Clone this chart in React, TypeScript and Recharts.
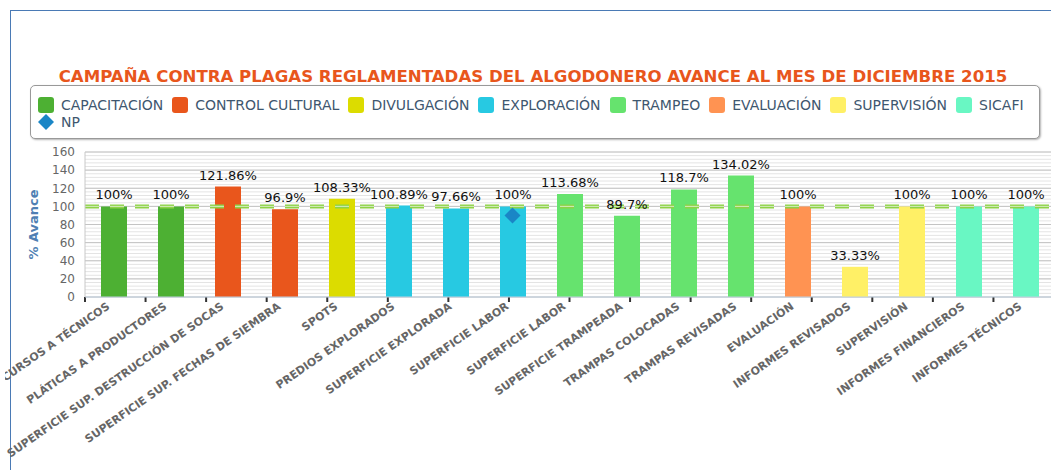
import React from 'react';
import {
  Bar,
  CartesianGrid,
  Cell,
  ComposedChart,
  LabelList,
  Line,
  ReferenceLine,
  XAxis,
  YAxis,
} from 'recharts';

const categories = [
  'CURSOS A TÉCNICOS',
  'PLÁTICAS A PRODUCTORES',
  'SUPERFICIE SUP. DESTRUCCIÓN DE SOCAS',
  'SUPERFICIE SUP. FECHAS DE SIEMBRA',
  'SPOTS',
  'PREDIOS EXPLORADOS',
  'SUPERFICIE EXPLORADA',
  'SUPERFICIE LABOR',
  'SUPERFICIE LABOR',
  'SUPERFICIE TRAMPEADA',
  'TRAMPAS COLOCADAS',
  'TRAMPAS REVISADAS',
  'EVALUACIÓN',
  'INFORMES REVISADOS',
  'SUPERVISIÓN',
  'INFORMES FINANCIEROS',
  'INFORMES TÉCNICOS',
];

const avance = [100, 100, 121.86, 96.9, 108.33, 100.89, 97.66, 100, 113.68, 89.7, 118.7, 134.02, 100, 33.33, 100, 100, 100];

// index into seriesNames for every category
const categorySeries = [0, 0, 1, 1, 2, 3, 3, 3, 4, 4, 4, 4, 5, 6, 6, 7, 7];

const npValues: (number | null)[] = [null, null, null, null, null, null, null, 90, null, null, null, null, null, null, null, null, null];

const seriesNames = ['CAPACITACIÓN', 'CONTROL CULTURAL', 'DIVULGACIÓN', 'EXPLORACIÓN', 'TRAMPEO', 'EVALUACIÓN', 'SUPERVISIÓN', 'SICAFI'];
const seriesColors = ['#4DB033', '#E9561C', '#DCDC00', '#27C9E2', '#66E36E', '#FF9352', '#FFF066', '#69F7C3'];
const npName = 'NP';
const npColor = '#1A86C6';

const yTicks = [0, 20, 40, 60, 80, 100, 120, 140, 160];
const minorTicks = [
  0, 4, 8, 12, 16, 20, 24, 28, 32, 36, 40, 44, 48, 52, 56, 60, 64, 68, 72, 76, 80,
  84, 88, 92, 96, 100, 104, 108, 112, 116, 120, 124, 128, 132, 136, 140, 144, 148, 152, 156, 160,
];
const edgeTicks = [0, 1, 2, 3, 4, 5, 6, 7, 8, 9, 10, 11, 12, 13, 14, 15, 16, 17];
const meta = 100;

const title = 'CAMPAÑA CONTRA PLAGAS REGLAMENTADAS DEL ALGODONERO AVANCE AL MES DE DICIEMBRE 2015';

const data = categories.map((name, i) => ({
  name,
  avance: avance[i],
  np: npValues[i],
  color: seriesColors[categorySeries[i]],
}));

const FONT = '"DejaVu Sans", Verdana, sans-serif';

function CategoryTick(props: any) {
  const { x, y, payload } = props;
  return (
    <g transform={`translate(${x - 3},${y + 11}) rotate(-35)`}>
      <text textAnchor="end" fontFamily={FONT} fontWeight="bold" fontSize={11} fill="#666">
        {payload.value}
      </text>
    </g>
  );
}

function EmptyTick() {
  return <g />;
}

function NpDot(props: any) {
  const { cx, cy, value } = props;
  if (value == null || cx == null || cy == null || isNaN(cy)) return <g key={props.index} />;
  return (
    <path
      key={props.index}
      d={`M${cx},${cy - 8}L${cx + 8},${cy}L${cx},${cy + 8}L${cx - 8},${cy}Z`}
      fill={npColor}
    />
  );
}

// minor grid lines placed through the y scale
function minorGrid({ yAxis }: any) {
  const s = yAxis && yAxis.scale;
  if (!s) return [];
  const f = typeof s === 'function' ? s : s.map;
  return minorTicks.map((t) => f(t));
}

function Legend() {
  return (
    <div
      style={{
        position: 'absolute',
        left: 30,
        top: 85,
        width: 1010,
        height: 54,
        boxSizing: 'border-box',
        border: '1px solid #999',
        borderRadius: 5,
        boxShadow: '1px 1px 2px rgba(0,0,0,0.3)',
        padding: '10px 0 0 7px',
        display: 'flex',
        flexWrap: 'wrap',
        alignContent: 'flex-start',
        fontFamily: FONT,
        fontSize: 14,
        color: '#3E576F',
        background: '#fff',
      }}
    >
      {seriesNames.map((s, i) => (
        <div key={s} style={{ display: 'flex', alignItems: 'center', height: 17, marginRight: 9 }}>
          <span style={{ width: 16, height: 16, borderRadius: 3, background: seriesColors[i], marginRight: 7 }} />
          <span style={{ whiteSpace: 'nowrap' }}>{s}</span>
        </div>
      ))}
      <div style={{ display: 'flex', alignItems: 'center', height: 17, marginRight: 9 }}>
        <svg width={16} height={16} style={{ marginRight: 7 }}>
          <path d="M8,0L16,8L8,16L0,8Z" fill={npColor} />
        </svg>
        <span>{npName}</span>
      </div>
    </div>
  );
}

export default function App() {
  return (
    <div style={{ position: 'relative', width: 1051, height: 470, overflow: 'hidden', background: '#fff' }}>
      <style>{'body{margin:0}'}</style>
      <div
        style={{
          position: 'absolute',
          left: 10,
          top: 10,
          right: 0,
          bottom: 0,
          borderLeft: '1.5px solid #4A7AB5',
          borderTop: '1.5px solid #4A7AB5',
        }}
      />
      <div
        style={{
          position: 'absolute',
          left: 0,
          top: 67,
          width: 1066,
          textAlign: 'center',
          fontFamily: FONT,
          fontWeight: 'bold',
          fontSize: 16.6,
          lineHeight: '20px',
          color: '#E8561C',
          whiteSpace: 'nowrap',
        }}
      >
        {title}
      </div>
      <Legend />
      <div style={{ position: 'absolute', left: 5, top: 0, width: 1055, height: 470, overflow: 'hidden' }}>
        <ComposedChart width={1055} height={470} data={data} margin={{ top: 152, right: 6, bottom: 0, left: 0 }}>
          <CartesianGrid xAxisId="main" vertical={false} stroke="#E4E4E4" horizontalCoordinatesGenerator={minorGrid} />
          <CartesianGrid xAxisId="main" vertical={false} stroke="#C4C4C4" />
          {/* boundary tick marks between categories */}
          <XAxis
            xAxisId={0}
            type="number"
            domain={[0, 17]}
            ticks={edgeTicks}
            interval={0}
            allowDataOverflow
            height={0.01}
            axisLine={false}
            tick={<EmptyTick />}
            tickSize={5}
            tickLine={{ stroke: '#333', strokeWidth: 2 }}
          />
          <XAxis
            xAxisId="main"
            dataKey="name"
            interval={0}
            height={172.99}
            tickLine={false}
            tickSize={0}
            tickMargin={0}
            axisLine={{ stroke: '#C0D0E0' }}
            tick={<CategoryTick />}
          />
          <YAxis
            width={80}
            domain={[0, 160]}
            ticks={yTicks}
            interval={0}
            tickLine={false}
            tickSize={0}
            tickMargin={10}
            axisLine={{ stroke: '#C8C8C8' }}
            tick={{ fill: '#666', fontSize: 12, fontFamily: FONT }}
            label={{
              value: '% Avance',
              angle: -90,
              position: 'insideLeft',
              offset: 28,
              style: { textAnchor: 'middle', fill: '#4F7FB3', fontWeight: 'bold', fontSize: 13, fontFamily: FONT },
            }}
          />
          <ReferenceLine xAxisId="main" y={meta} stroke="#8ED246" strokeWidth={4} strokeDasharray="14 11" />
          <ReferenceLine xAxisId="main" y={meta} stroke="#D5EBC0" strokeWidth={1} strokeDasharray="14 11" />
          <Bar xAxisId="main" dataKey="avance" barSize={26} isAnimationActive={false}>
            {data.map((d, i) => (
              <Cell key={i} fill={d.color} />
            ))}
            <LabelList
              dataKey="avance"
              position="top"
              offset={7}
              formatter={(v: any) => `${v}%`}
              fill="#111"
              style={{ fontFamily: FONT, fontSize: 13 }}
            />
          </Bar>
          <Line
            xAxisId="main"
            dataKey="np"
            stroke="none"
            isAnimationActive={false}
            dot={NpDot}
            activeDot={false}
            legendType="none"
          />
        </ComposedChart>
      </div>
    </div>
  );
}
